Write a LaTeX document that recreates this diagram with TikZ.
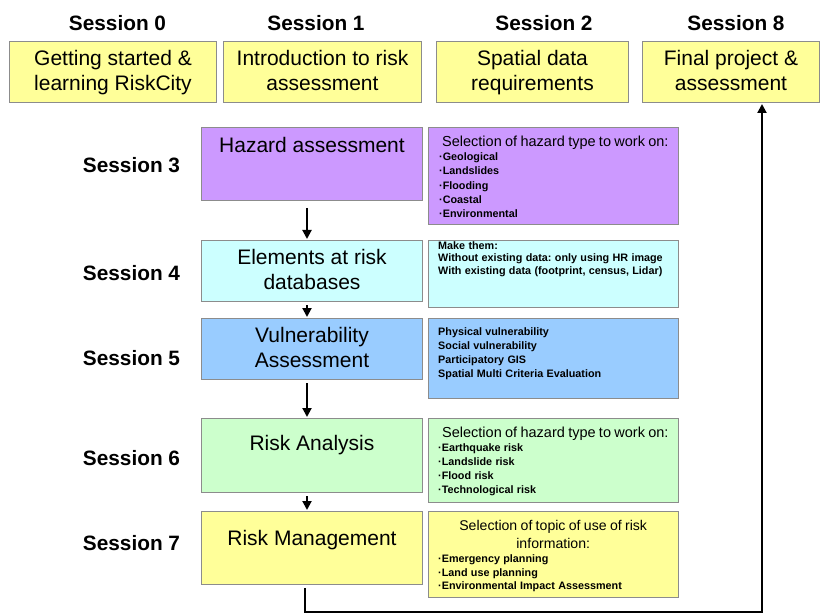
\documentclass[tikz,border=0pt]{standalone}
\usepackage{fontspec}
\setmainfont{Liberation Sans}
\usetikzlibrary{arrows.meta}
\definecolor{yel}{HTML}{FFFF99}
\definecolor{pur}{HTML}{CC99FF}
\definecolor{cya}{HTML}{CCFFFF}
\definecolor{blu}{HTML}{99CCFF}
\definecolor{grn}{HTML}{CCFFCC}
\definecolor{edge}{HTML}{8C8C8C}
\newcommand{\lnA}{\rule[-4pt]{0pt}{20pt}}
\frenchspacing
\begin{document}
\begin{tikzpicture}[x=1pt,y=-1pt,
  box/.style={draw=edge, line width=1pt, inner sep=0pt, anchor=north west, align=center,
    font=\fontsize{21}{25}\selectfont},
  sesslabel/.style={anchor=base, inner sep=0pt, font=\bfseries\fontsize{20.8}{24}\selectfont},
  arr/.style={line width=2pt, -{Triangle[width=9pt,length=9pt]}, shorten <=3pt, shorten >=1pt},
  small/.style={anchor=north west, inner sep=0pt, text width=236pt, align=left,
    execute at begin node={\frenchspacing\setlength{\parindent}{0pt}\setlength{\parskip}{0pt}}},
]
\useasboundingbox (0,0) rectangle (823,615);
\fill[white] (0,0) rectangle (823,615);

% top session labels
\node[sesslabel] (l0) at (117.5,31) {Session 0};
\node[sesslabel] (l1) at (316,31) {Session 1};
\node[sesslabel] (l2) at (544,31) {Session 2};
\node[sesslabel] (l8) at (736,31) {Session 8};

% top boxes
\node[box, fill=yel, minimum width=207pt, minimum height=61pt] (s0) at (9,41) {\lnA Getting started \&\\\lnA learning RiskCity};
\node[box, fill=yel, minimum width=198pt, minimum height=61pt] (s1) at (223,41) {\lnA Introduction to risk\\\lnA assessment};
\node[box, fill=yel, minimum width=192pt, minimum height=61pt] (s2) at (436,41) {\lnA Spatial data\\\lnA requirements};
\node[box, fill=yel, minimum width=177pt, minimum height=61pt] (s8) at (642,41) {\lnA Final project \&\\\lnA assessment};

% left session labels
\node[sesslabel] (l3) at (131.5,173) {Session 3};
\node[sesslabel] (l4) at (131.5,280) {Session 4};
\node[sesslabel] (l5) at (131.5,365) {Session 5};
\node[sesslabel] (l6) at (131.5,465) {Session 6};
\node[sesslabel] (l7) at (131.5,550) {Session 7};

% main column
\node[box, fill=pur, minimum width=221pt, text height=25pt, text depth=48pt] (haz) at (201,127) {Hazard assessment};
\node[box, fill=cya, minimum width=221pt, minimum height=61pt] (elem) at (201,240) {\lnA Elements at risk\\\lnA databases};
\node[box, fill=blu, minimum width=221pt, minimum height=61pt] (vul) at (201,318) {\lnA Vulnerability\\\lnA Assessment};
\node[box, fill=grn, minimum width=221pt, text height=32pt, text depth=42pt] (ra) at (201,418) {Risk Analysis};
\node[box, fill=yel, minimum width=221pt, text height=34pt, text depth=39pt] (rmg) at (201,511) {Risk Management};

% right boxes
\node[box, fill=pur, minimum width=250pt, minimum height=97pt] (rh) at (428,127) {};
\node[box, fill=cya, minimum width=250pt, minimum height=67pt] (re) at (428,240) {};
\node[box, fill=blu, minimum width=250pt, minimum height=80pt] (rv) at (428,318) {};
\node[box, fill=grn, minimum width=250pt, minimum height=84pt] (rr) at (428,418) {};
\node[box, fill=yel, minimum width=250pt, minimum height=86pt] (rm) at (428,511) {};

% right box texts
\node[small] (rht) at (439,134) {%
  {\fontsize{14.5}{16}\selectfont\hspace*{3pt}\rule{0pt}{12pt}Selection of hazard type to work on:\par}%
  {\bfseries\fontsize{10.8}{14.3}\selectfont ·Geological\par ·Landslides\par ·Flooding\par ·Coastal\par ·Environmental\par}};
\node[small] (ret) at (438,240.5) {%
  {\bfseries\fontsize{10.8}{12.2}\selectfont \rule{0pt}{9pt}Make them:\par
   Without existing data: only using HR image\par
   With existing data (footprint, census, Lidar)\par}};
\node[small] (rvt) at (438,326) {%
  {\bfseries\fontsize{10.8}{14}\selectfont \rule{0pt}{9pt}Physical vulnerability\par
   Social vulnerability\par
   Participatory GIS\par
   Spatial Multi Criteria Evaluation\par}};
\node[small] (rrt) at (438,425) {%
  {\fontsize{14.5}{16}\selectfont\hspace*{4pt}\rule{0pt}{12pt}Selection of hazard type to work on:\par}%
  {\bfseries\fontsize{10.8}{14}\selectfont ·Earthquake risk\par ·Landslide risk\par ·Flood risk\par ·Technological risk\par}};
\node[small, text width=230pt] (rmt) at (438,518.5) {%
  {\centering\fontsize{14.1}{17.7}\selectfont \rule{0pt}{12pt}Selection of topic of use of risk\par information:\par}%
  {\bfseries\fontsize{10.8}{13.8}\selectfont ·Emergency planning\par ·Land use planning\par ·Environmental Impact Assessment\par}};

% connectors
\coordinate (col) at (307,0);
\draw[arr, shorten <=7pt] (haz.south -| col) -- (elem.north -| col);
\draw[arr] (elem.south -| col) -- (vul.north -| col);
\draw[arr] (vul.south -| col) -- (ra.north -| col);
\draw[arr] (ra.south -| col) -- (rmg.north -| col);
\coordinate (bl) at (305,612);
\coordinate (br) at (762,612);
\draw[arr] (rmg.south -| bl) -- (bl) -- (br) -- (s8.south -| br);
\end{tikzpicture}
\end{document}
